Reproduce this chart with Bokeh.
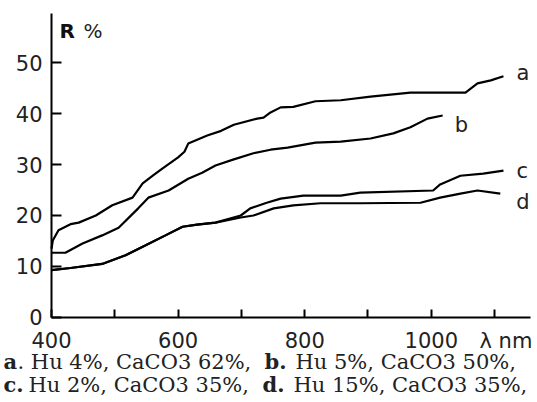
from bokeh.plotting import figure
from bokeh.models import Label, FixedTicker, Range1d, ColumnDataSource
from bokeh.core.properties import value
from bokeh.embed import file_html
from bokeh.resources import INLINE

# ---- data ----
a_x = [400, 402, 411, 430, 443, 470, 496, 528, 544, 560, 575, 600, 610, 616, 646, 668, 688, 725, 735, 746, 762, 782, 817, 857, 904, 967, 1054, 1073, 1094, 1114]
a_y = [13.5, 15.1, 17.1, 18.3, 18.6, 20.0, 22.0, 23.5, 26.3, 27.8, 29.2, 31.4, 32.5, 34.1, 35.7, 36.6, 37.8, 39.0, 39.2, 40.2, 41.2, 41.3, 42.4, 42.6, 43.3, 44.1, 44.1, 45.9, 46.5, 47.3]

b_x = [400, 422, 449, 480, 506, 537, 553, 585, 616, 638, 659, 688, 719, 746, 773, 817, 857, 904, 940, 967, 994, 1018]
b_y = [12.7, 12.7, 14.5, 16.1, 17.6, 21.4, 23.5, 24.9, 27.2, 28.4, 29.8, 31.0, 32.2, 32.9, 33.3, 34.3, 34.5, 35.1, 36.1, 37.3, 39.0, 39.6]

c_x = [400, 430, 480, 517, 548, 580, 607, 630, 659, 699, 714, 740, 762, 798, 857, 888, 1003, 1014, 1046, 1082, 1114]
c_y = [9.3, 9.7, 10.5, 12.2, 14.1, 16.1, 17.8, 18.2, 18.6, 20.0, 21.4, 22.5, 23.3, 23.9, 23.9, 24.5, 24.9, 26.1, 27.8, 28.2, 28.8]

d_x = [400, 430, 480, 517, 548, 580, 607, 630, 659, 699, 719, 751, 782, 825, 888, 983, 1014, 1046, 1073, 1109]
d_y = [9.3, 9.7, 10.5, 12.2, 14.1, 16.1, 17.8, 18.2, 18.6, 19.6, 20.0, 21.4, 22.0, 22.4, 22.4, 22.5, 23.5, 24.3, 24.9, 24.3]

curve_names = ["a", "b", "c", "d"]
x_ticks = [400, 500, 600, 700, 800, 900, 1000, 1100]
x_tick_labels = {400: "400", 500: "", 600: "600", 700: "", 800: "800", 900: "", 1000: "1000", 1100: ""}
y_ticks = [0, 10, 20, 30, 40, 50]
x_unit = "λ nm"
y_title_bold = "R"
y_title_rest = "%"
caption = [
    [("a", True), (". Hu 4%, CaCO3 62%,", False), ("b.", True), (" Hu 5%, CaCO3 50%,", False)],
    [("c.", True), (" Hu 2%, CaCO3 35%,", False), ("d.", True), (" Hu 15%, CaCO3 35%,", False)],
]

# ---- figure: the frame fills the canvas, axes are pinned at x=400 / y=0 ----
p = figure(width=537, height=402, output_backend="svg", toolbar_location=None,
           x_range=Range1d(319.4, 1167.8), y_range=Range1d(-16.67, 62.16),
           min_border=0, min_border_left=0, min_border_right=0,
           min_border_top=0, min_border_bottom=0)
p.outline_line_color = None
p.xgrid.visible = False
p.ygrid.visible = False
p.background_fill_color = "white"
p.border_fill_color = "white"

series = [(a_x, a_y), (b_x, b_y), (c_x, c_y), (d_x, d_y)]
for xs, ys in series:
    p.line(xs, ys, line_color="black", line_width=2.2)

# curve labels at the end of each curve
lab_src = ColumnDataSource(dict(
    x=[s[0][-1] for s in series],
    y=[s[1][-1] for s in series],
    t=curve_names,
    xo=[13, 12, 13, 16],
    yo=[-3, 9, 0, 8],
))
p.text(x="x", y="y", text="t", x_offset="xo", y_offset="yo", source=lab_src,
       text_font=value("DejaVu Sans"), text_font_size="21px", text_color="#222",
       text_align="left", text_baseline="middle")

# axes
ax = p.xaxis[0]
ax.fixed_location = 0
ax.bounds = (400, 1156)
ax.ticker = FixedTicker(ticks=x_ticks)
ax.major_label_overrides = x_tick_labels
ax.minor_tick_line_color = None
ax.major_tick_in = 8
ax.major_tick_out = 0
ax.major_tick_line_width = 2
ax.axis_line_width = 2
ax.major_label_text_font = "DejaVu Sans"
ax.major_label_text_font_size = "21px"
ax.major_label_text_color = "#222"
ax.major_label_standoff = 15

ay = p.yaxis[0]
ay.fixed_location = 400
ay.bounds = (0, 59.6)
ay.ticker = FixedTicker(ticks=y_ticks)
ay.minor_tick_line_color = None
ay.major_tick_in = 10
ay.major_tick_out = 0
ay.major_tick_line_width = 2
ay.axis_line_width = 2
ay.major_label_text_font = "DejaVu Sans"
ay.major_label_text_font_size = "21px"
ay.major_label_text_color = "#222"
ay.major_label_standoff = 9

# axis titles (screen units, origin at the bottom-left of the canvas-filling frame)
p.add_layout(Label(x=59, y=372, x_units="screen", y_units="screen", text=y_title_bold,
                   text_font="DejaVu Sans", text_font_style="bold", text_font_size="20px",
                   text_color="#111", text_baseline="alphabetic"))
p.add_layout(Label(x=83, y=372, x_units="screen", y_units="screen", text=y_title_rest,
                   text_font="DejaVu Sans", text_font_size="20px",
                   text_color="#222", text_baseline="alphabetic"))
p.add_layout(Label(x=479, y=62, x_units="screen", y_units="screen", text=x_unit,
                   text_font="DejaVu Sans", text_font_size="21px",
                   text_color="#222", text_baseline="alphabetic"))

# caption (two lines, mixed bold)
line_y = [41, 18]
piece_x = [[3, 17, 264, 295], [3, 28, 262, 293]]
for row, ypos, xs in zip(caption, line_y, piece_x):
    for (txt, bold), xpos in zip(row, xs):
        p.add_layout(Label(x=xpos, y=ypos, x_units="screen", y_units="screen", text=txt,
                           text_font="DejaVu Serif", text_font_size="21px",
                           text_font_style="bold" if bold else "normal",
                           text_color="#222", text_baseline="alphabetic"))

open("out.html", "w").write(file_html(p, INLINE))
